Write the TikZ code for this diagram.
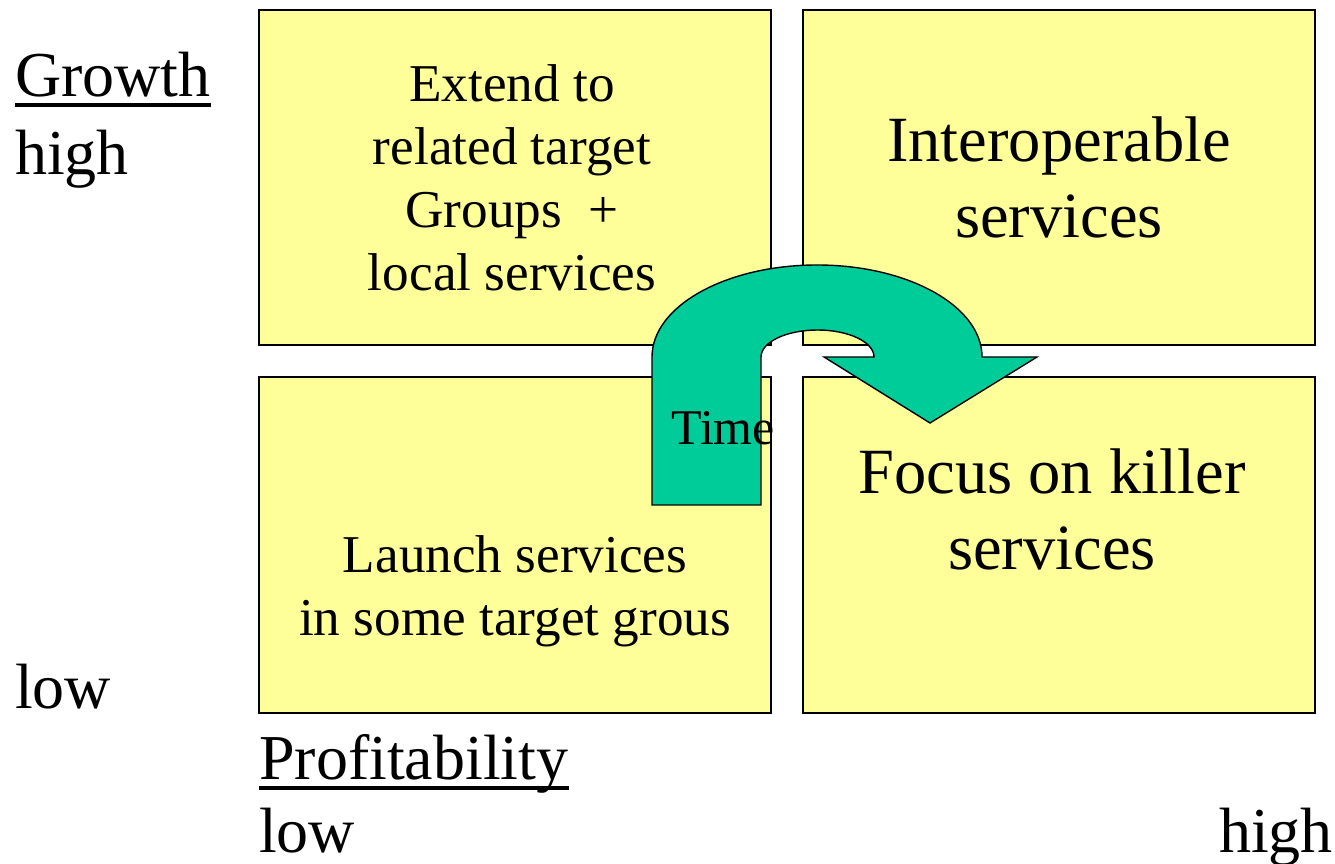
\documentclass[tikz,border=0pt]{standalone}
\usepackage{fontspec}
\setmainfont{Liberation Serif}
\newcommand\myul[1]{\setbox0\hbox{#1}\rlap{\rule[-10pt]{\wd0}{4pt}}\box0}
\definecolor{boxyellow}{HTML}{FFFF99}
\definecolor{arrowgreen}{HTML}{00CC99}
\begin{document}
\begin{tikzpicture}[x=1pt,y=1pt,
  quad/.style={draw=black,line width=1.2pt,fill=boxyellow},
  big/.style={inner sep=0pt,align=center,font=\fontsize{64.5}{76}\selectfont},
  mid/.style={inner sep=0pt,align=center,font=\fontsize{53.2}{63}\selectfont},
  axis/.style={inner sep=0pt,font=\fontsize{64}{76}\selectfont}]
\useasboundingbox (0,0) rectangle (1335,864);
% quadrants
\path[quad] (259,854) rectangle (771,519) coordinate[pos=.5] (tl);
\path[quad] (803,854) rectangle (1315,519) coordinate[pos=.5] (tr);
\path[quad] (259,487) rectangle (771,151) coordinate[pos=.5] (bl);
\path[quad] (803,487) rectangle (1315,151) coordinate[pos=.5] (br);
% texts
\node[mid,anchor=base] (tltext) at (512,573) {Extend to\\related target\\Groups \ +\\local services};
\node[big,anchor=base] (trtext) at (1059,626) {Interoperable\\services};
\node[mid,anchor=base] (bltext) at (515,228) {Launch services\\in some target grous};
\node[big,anchor=base] (brtext) at (1052,294) {Focus on killer\\services};
% arrow
\draw[fill=arrowgreen,line width=1.4pt,line join=miter]
  (652,359) -- (652,507) arc[start angle=180,end angle=0,x radius=165,y radius=92]
  -- (1037,507) -- (930,441) -- (824,507) -- (874,507)
  arc[start angle=0,end angle=180,x radius=56.5,y radius=27] -- (761,359) -- cycle;
\node[inner sep=0pt,anchor=base west,font=\fontsize{50}{60}\selectfont] (time) at (671,419) {Time};
% axis labels
\node[axis,anchor=base west,align=left,font=\fontsize{64}{78}\selectfont] (growth) at (15,689) {\myul{Growth}\\high};
\node[axis,anchor=base west] (glow) at (15,155) {low};
\node[axis,anchor=base west,align=left,font=\fontsize{64}{73}\selectfont] (profit) at (259,11) {\myul{Profitability}\\low};
\node[axis,anchor=base east] (phigh) at (1333,11) {high};
\end{tikzpicture}
\end{document}
